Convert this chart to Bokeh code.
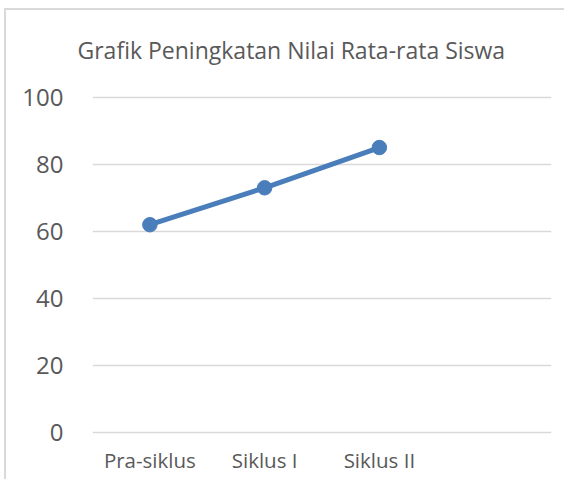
from bokeh.plotting import figure
from bokeh.models import FactorRange, Range1d, FixedTicker
from bokeh.embed import file_html
from bokeh.resources import INLINE

title_text = "Grafik Peningkatan Nilai Rata-rata Siswa"
categories = ["Pra-siklus", "Siklus I", "Siklus II"]
values = [62, 73, 85]
extra_slot = [" "]
y_ticks = [0, 20, 40, 60, 80, 100]

FONT = "Open Sans"
TXT = "#595959"
BLUE = "#4a7ebb"
EDGE = "#d9d9d9"

p = figure(
    width=564, height=479,
    x_range=FactorRange(factors=categories + extra_slot),
    y_range=Range1d(-0.5, 100.5),
    output_backend="svg", toolbar_location=None,
    min_border_left=92, min_border_right=13,
    min_border_top=95, min_border_bottom=45,
    background_fill_color="white", border_fill_color=None,
    outline_line_color=None,
    title=title_text,
)
p.styles = {
    "background": (
        f"linear-gradient({EDGE},{EDGE}) 4px 8px / 2px 100% no-repeat, "
        f"linear-gradient({EDGE},{EDGE}) 4px 8px / 100% 2px no-repeat, white"
    )
}

p.title.align = "left"
p.title.offset = -15
p.title.text_font = FONT
p.title.text_font_size = "23px"
p.title.text_font_style = "normal"
p.title.text_color = TXT
p.title.standoff = 60

p.line(categories, values, line_color=BLUE, line_width=5)
p.scatter(categories, values, size=14.5, fill_color=BLUE, line_color=BLUE)

p.xgrid.grid_line_color = None
p.ygrid.grid_line_color = EDGE
p.ygrid.grid_line_width = 1.5
p.yaxis.ticker = FixedTicker(ticks=y_ticks)

for ax in (p.xaxis[0], p.yaxis[0]):
    ax.axis_line_color = None
    ax.major_tick_line_color = None
    ax.minor_tick_line_color = None
    ax.major_label_text_font = FONT
    ax.major_label_text_color = TXT

p.yaxis.major_label_text_font_size = "24px"
p.yaxis.major_label_standoff = 23
p.xaxis.major_label_text_font_size = "20.5px"
p.xaxis.major_label_standoff = 5

open("out.html", "w").write(file_html(p, INLINE))
